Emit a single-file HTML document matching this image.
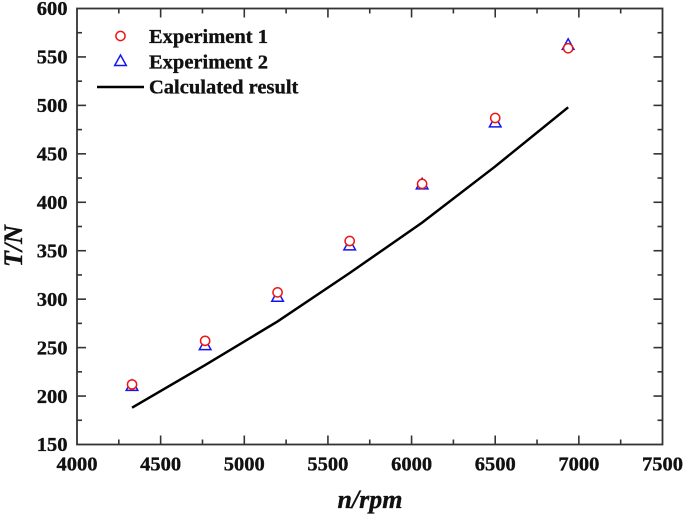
<!DOCTYPE html>
<html>
<head>
<meta charset="utf-8">
<style>
html,body{margin:0;padding:0;background:#fff;}
body{width:685px;height:518px;overflow:hidden;}
svg{display:block;}
text{font-family:"Liberation Serif",serif;font-weight:bold;fill:#111;stroke:#111;stroke-width:0.35px;}
</style>
</head>
<body>
<svg id="chart" width="685" height="518" viewBox="0 0 685 518" xmlns="http://www.w3.org/2000/svg"></svg>
<script>
const xTickLabels = [4000, 4500, 5000, 5500, 6000, 6500, 7000, 7500];
const yTickLabels = [150, 200, 250, 300, 350, 400, 450, 500, 550, 600];
const speeds = [4329, 4766, 5199, 5630, 6063, 6500, 6936];
const experiment1 = [212, 257, 307, 360, 419, 487, 559];
const experiment2 = [210, 252, 302, 355, 418, 482, 562];
const calculated = [188, 232, 277, 327, 379, 437, 498];

const NS = 'http://www.w3.org/2000/svg';
const svg = document.getElementById('chart');
const L = 77, R = 662.5, T = 8.5, B = 444.5;
const sx = v => L + (v - 4000) / 3500 * (R - L);
const sy = v => B - (v - 150) / 450 * (B - T);

function mk(tag, attrs, parent) {
  const e = document.createElementNS(NS, tag);
  for (const k in attrs) e.setAttribute(k, attrs[k]);
  (parent || svg).appendChild(e);
  return e;
}
const axisColor = '#333';

const frame = mk('rect', {x: L, y: T, width: R - L, height: B - T, fill: 'none', stroke: axisColor, 'stroke-width': 1.8});



function tickLine(x1, y1, x2, y2, name) {
  const t = mk('line', {x1, y1, x2, y2, stroke: axisColor, 'stroke-width': 1.6});
  
  
}

xTickLabels.forEach((v, i) => {
  const x = sx(v);
  if (i > 0 && i < xTickLabels.length - 1) {
    tickLine(x, B, x, B - 9, 'x-major-tick');
    tickLine(x, T, x, T + 9, 'x-major-tick-top');
  }
  if (i < xTickLabels.length - 1) {
    const m = sx(v + 250);
    tickLine(m, B, m, B - 5, 'x-minor-tick');
    tickLine(m, T, m, T + 5, 'x-minor-tick-top');
  }
  const t = mk('text', {x: x, y: 470.5, 'text-anchor': 'middle', 'font-size': 20.5});
  t.textContent = v;
  
  
});

yTickLabels.forEach((v, i) => {
  const y = sy(v);
  if (i > 0 && i < yTickLabels.length - 1) {
    tickLine(L, y, L + 9, y, 'y-major-tick');
    tickLine(R, y, R - 9, y, 'y-major-tick-right');
  }
  if (i < yTickLabels.length - 1) {
    const m = sy(v + 25);
    tickLine(L, m, L + 5, m, 'y-minor-tick');
    tickLine(R, m, R - 5, m, 'y-minor-tick-right');
  }
  const t = mk('text', {x: 67.5, y: y + 6.7, 'text-anchor': 'end', 'font-size': 20.5});
  t.textContent = v;
  
  
});

const line = mk('polyline', {
  points: speeds.map((s, i) => sx(s) + ',' + sy(calculated[i])).join(' '),
  fill: 'none', stroke: '#000', 'stroke-width': 2.5
});



function triangle(cx, cy, parent) {
  const p = mk('polygon', {
    points: (cx - 5.8) + ',' + (cy + 4) + ' ' + (cx + 5.8) + ',' + (cy + 4) + ' ' + cx + ',' + (cy - 6.5),
    fill: 'none', stroke: '#1414f0', 'stroke-width': 1.5
  }, parent);
  return p;
}
speeds.forEach((s, i) => {
  const p = triangle(sx(s), sy(experiment2[i]));
  
  
});
speeds.forEach((s, i) => {
  const c = mk('circle', {cx: sx(s), cy: sy(experiment1[i]), r: 4.6, fill: '#fff', stroke: '#f01414', 'stroke-width': 1.5});
  
  
});

const lc1 = mk('circle', {cx: 120.5, cy: 36, r: 4.6, fill: '#fff', stroke: '#f01414', 'stroke-width': 1.5});


const lc2 = triangle(120.5, 61.5);


const lc3 = mk('line', {x1: 97, y1: 87, x2: 144, y2: 87, stroke: '#000', 'stroke-width': 2.5});



const leg1 = mk('text', {x: 149, y: 43, 'font-size': 20.5});
leg1.textContent = 'Experiment 1';


const leg2 = mk('text', {x: 149, y: 68.3, 'font-size': 20.5});
leg2.textContent = 'Experiment 2';


const leg3 = mk('text', {x: 149, y: 93.7, 'font-size': 20.5});
leg3.textContent = 'Calculated result';



const xt = mk('text', {x: 370, y: 508, 'text-anchor': 'middle', 'font-size': 26, 'font-style': 'italic'});
xt.textContent = 'n/rpm';


const yt = mk('text', {x: 0, y: 0, 'text-anchor': 'middle', 'font-size': 26, 'font-style': 'italic', transform: 'translate(22,246) rotate(-90)'});
yt.textContent = 'T/N';


</script>
</body>
</html>
